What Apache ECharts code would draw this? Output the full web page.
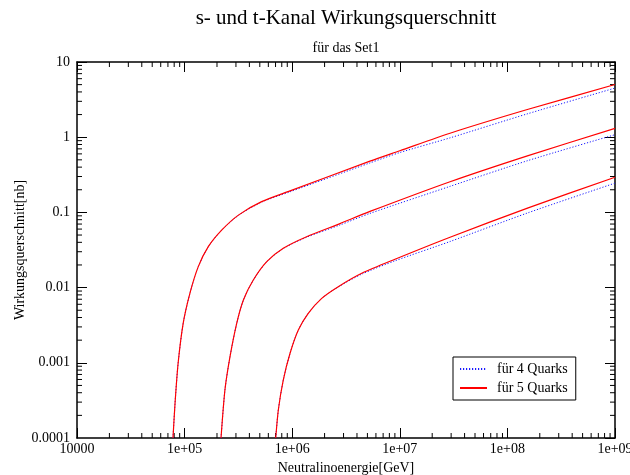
<!DOCTYPE html>
<html>
<head>
<meta charset="utf-8">
<script src="https://cdn.jsdelivr.net/npm/echarts@6/dist/echarts.min.js"></script>
<style>
  html, body { margin: 0; padding: 0; background: #fff; }
  #chart { width: 630px; height: 475px; }
</style>
</head>
<body>
<div id="chart"></div>
<script>
// Neutralino energy [GeV] and cross sections [nb] for the three channels,
// computed with 4 and with 5 quark flavours.
const energyA = [7.8e4, 8.15e4, 8.7e4, 9.7e4, 1.12e5, 1.34e5, 1.66e5, 2.21e5, 3.16e5, 5.2e5, 9.55e5, 5.28e6, 1e7, 2.93e7, 1.56e8, 1e9];
const sigmaA5 = [1.0e-4, 2.9e-4, 9.8e-4, 3.35e-3, 8.4e-3, 0.019, 0.035, 0.058, 0.092, 0.139, 0.193, 0.48, 0.66, 1.13, 2.35, 5.02];
const sigmaA4 = [1.0e-4, 2.9e-4, 9.8e-4, 3.35e-3, 8.4e-3, 0.019, 0.035, 0.058, 0.091, 0.137, 0.188, 0.455, 0.625, 0.98, 2.06, 4.5];

const energyB = [2.18e5, 2.37e5, 2.64e5, 3.05e5, 3.52e5, 4.35e5, 5.8e5, 8.26e5, 1.36e6, 2.78e6, 5.28e6, 2.93e7, 1.56e8, 1e9];
const sigmaB5 = [1.0e-4, 4.35e-4, 1.2e-3, 3.35e-3, 6.84e-3, 0.0126, 0.0221, 0.0333, 0.0475, 0.071, 0.103, 0.256, 0.57, 1.31];
const sigmaB4 = [1.0e-4, 4.35e-4, 1.2e-3, 3.35e-3, 6.84e-3, 0.0126, 0.0221, 0.0331, 0.0467, 0.068, 0.097, 0.222, 0.49, 1.08];

const energyC = [7.03e5, 7.43e5, 8.26e5, 9.55e5, 1.14e6, 1.41e6, 1.88e6, 2.68e6, 4.43e6, 9.02e6, 2.93e7, 1.56e8, 1e9];
const sigmaC5 = [1.0e-4, 2.36e-4, 5.9e-4, 1.34e-3, 2.73e-3, 4.55e-3, 7.2e-3, 0.0103, 0.0155, 0.0238, 0.0467, 0.115, 0.293];
const sigmaC4 = [1.0e-4, 2.36e-4, 5.9e-4, 1.34e-3, 2.73e-3, 4.55e-3, 7.2e-3, 0.0102, 0.0151, 0.0227, 0.041, 0.099, 0.245];

const seriesNames = ['für 4 Quarks', 'für 5 Quarks'];
const xTickLabels = ['10000', '1e+05', '1e+06', '1e+07', '1e+08', '1e+09'];
const yTickLabels = ['0.0001', '0.001', '0.01', '0.1', '1', '10'];

const X_MIN = 1e4, X_MAX = 1e9, Y_MIN = 1e-4, Y_MAX = 10;
const SERIF = "'Liberation Serif', 'Times New Roman', serif";

function pairs(xs, ys) { return xs.map((x, i) => [x, ys[i]]); }

// minor ticks at 2..9 within every decade
function minorValues(lo, hi) {
  const out = [];
  for (let d = lo; d < hi; d *= 10) {
    for (let k = 2; k <= 9; k++) out.push(d * k);
  }
  return out;
}
const xMinor = minorValues(X_MIN, X_MAX);
const yMinor = minorValues(Y_MIN, Y_MAX);

function xMinorTick(params, api) {
  const cs = params.coordSys;
  const x = api.coord([api.value(0), api.value(1)])[0];
  const st = { stroke: '#000', lineWidth: 1 };
  return { type: 'group', children: [
    { type: 'line', shape: { x1: x, y1: cs.y + cs.height, x2: x, y2: cs.y + cs.height - 5 }, style: st },
    { type: 'line', shape: { x1: x, y1: cs.y, x2: x, y2: cs.y + 5 }, style: st }
  ]};
}
function yMinorTick(params, api) {
  const cs = params.coordSys;
  const y = api.coord([api.value(0), api.value(1)])[1];
  const st = { stroke: '#000', lineWidth: 1 };
  return { type: 'group', children: [
    { type: 'line', shape: { x1: cs.x, y1: y, x2: cs.x + 5, y2: y }, style: st },
    { type: 'line', shape: { x1: cs.x + cs.width, y1: y, x2: cs.x + cs.width - 5, y2: y }, style: st }
  ]};
}

const dotted = { color: '#1a1aff', width: 1, type: [1.2, 1.8] };
const solid = { color: '#ff0000', width: 1.2, type: 'solid' };

function curve(name, data, style, z) {
  return {
    name: name, type: 'line', data: data, symbol: 'none', showSymbol: false,
    smooth: 0.25, lineStyle: style, itemStyle: { color: style.color },
    clip: true, z: z, silent: true
  };
}

const baseX = {
  type: 'log', logBase: 10, min: X_MIN, max: X_MAX, splitNumber: 5,
  axisLine: { show: true, lineStyle: { color: '#000', width: 1.5 } },
  axisTick: { show: true, inside: true, length: 10, lineStyle: { color: '#000', width: 1 } },
  splitLine: { show: false }, minorTick: { show: false }
};
const baseY = {
  type: 'log', logBase: 10, min: Y_MIN, max: Y_MAX, splitNumber: 5,
  axisLine: { show: true, lineStyle: { color: '#000', width: 1.5 } },
  axisTick: { show: true, inside: true, length: 10, lineStyle: { color: '#000', width: 1 } },
  splitLine: { show: false }, minorTick: { show: false }
};

const labelFont = { fontFamily: SERIF, fontSize: 14, color: '#000' };

const chart = echarts.init(document.getElementById('chart'), null, { renderer: 'canvas' });
chart.setOption({
  animation: false,
  backgroundColor: '#fff',
  title: [
    { text: 's- und t-Kanal Wirkungsquerschnitt', left: 341, top: 3, textAlign: 'center',
      textStyle: { fontFamily: SERIF, fontSize: 21, fontWeight: 'normal', color: '#000' } },
    { text: 'für das Set1', left: 341, top: 36, textAlign: 'center',
      textStyle: { fontFamily: SERIF, fontSize: 14, fontWeight: 'normal', color: '#000' } }
  ],
  legend: {
    data: seriesNames, orient: 'vertical', left: 453, top: 357,
    selectedMode: false,
    borderColor: '#000', borderWidth: 1, padding: [5, 8, 5, 6],
    itemWidth: 27, itemHeight: 14, itemGap: 5,
    itemStyle: { opacity: 0 },
    textStyle: Object.assign({ padding: [0, 0, 0, 5] }, labelFont)
  },
  grid: { left: 77, right: 15, top: 62, bottom: 37, containLabel: false, outerBoundsMode: 'none' },
  xAxis: [
    Object.assign({}, baseX, {
      position: 'bottom',
      name: 'Neutralinoenergie[GeV]', nameLocation: 'middle', nameGap: 21,
      nameTextStyle: labelFont,
      axisLabel: Object.assign({ show: true, margin: 4, hideOverlap: false,
        formatter: v => xTickLabels[Math.round(Math.log10(v)) - 4] }, labelFont)
    }),
    Object.assign({}, baseX, { position: 'top', axisLabel: { show: false } })
  ],
  yAxis: [
    Object.assign({}, baseY, {
      position: 'left',
      name: 'Wirkungsquerschnitt[nb]', nameLocation: 'middle', nameGap: 50,
      nameTextStyle: labelFont,
      axisLabel: Object.assign({ show: true, margin: 7, hideOverlap: false, showMinLabel: false,
        formatter: v => yTickLabels[Math.round(Math.log10(v)) + 4] }, labelFont)
    }),
    Object.assign({}, baseY, { position: 'right', axisLabel: { show: false } })
  ],
  series: [
    curve(seriesNames[0], pairs(energyA, sigmaA4), dotted, 2),
    curve(seriesNames[0], pairs(energyB, sigmaB4), dotted, 2),
    curve(seriesNames[0], pairs(energyC, sigmaC4), dotted, 2),
    curve(seriesNames[1], pairs(energyA, sigmaA5), solid, 3),
    curve(seriesNames[1], pairs(energyB, sigmaB5), solid, 3),
    curve(seriesNames[1], pairs(energyC, sigmaC5), solid, 3),
    { type: 'custom', silent: true, z: 1, renderItem: xMinorTick,
      data: xMinor.map(v => [v, 1]), encode: { x: 0, y: 1 } },
    { type: 'custom', silent: true, z: 1, renderItem: yMinorTick,
      data: yMinor.map(v => [1e6, v]), encode: { x: 0, y: 1 } }
  ]
});

// lowest y tick label, placed at the corner next to the first x label
const corner = chart.convertToPixel({ gridIndex: 0 }, [X_MIN, Y_MIN]);
chart.setOption({
  graphic: [{
    type: 'text', silent: true,
    x: corner[0] - 7, y: corner[1],
    style: { text: yTickLabels[0], align: 'right', verticalAlign: 'middle',
      font: "14px 'Liberation Serif', 'Times New Roman', serif", fill: '#000' }
  }]
});
</script>
</body>
</html>
